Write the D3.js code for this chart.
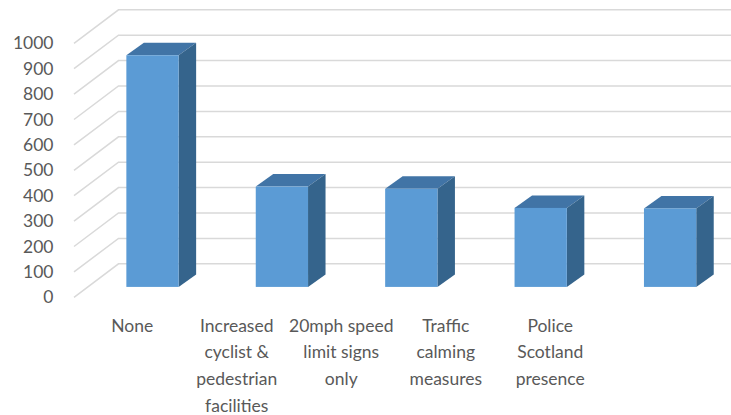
<!DOCTYPE html>
<html>
<head>
<meta charset="utf-8">
<script src="https://cdn.jsdelivr.net/npm/d3@7"></script>
<style>
  html, body { margin: 0; padding: 0; background: #ffffff; }
  svg { display: block; }
  text { font-family: Lato, "Open Sans", sans-serif; fill: #595959; }
</style>
</head>
<body>
<svg id="chart" width="731" height="415"></svg>
<script>
// Survey responses per measure
const categories = [
  "None",
  "Increased\ncyclist &\npedestrian\nfacilities",
  "20mph speed\nlimit signs\nonly",
  "Traffic\ncalming\nmeasures",
  "Police\nScotland\npresence"
];
const values = [912, 395, 386, 311, 309];
const yTicks = [0, 100, 200, 300, 400, 500, 600, 700, 800, 900, 1000];

const W = 731, H = 415;
const svg = d3.select("#chart");

// 3D box geometry: front-left floor corner and depth vector of the walls
const ox = 74, oy = 297.3;
const depth = { x: 44.5, y: -33.5 };
const wallRight = 760;

// value -> height in pixels
const y = d3.scaleLinear().domain([0, 1000]).range([0, 254]);

// bar placement along the floor
const x = d3.scaleBand()
  .domain(d3.range(categories.length))
  .range([0, 647])
  .paddingInner(0.596)
  .paddingOuter(0.298);

// category label positions along the front edge
const xLabel = d3.scaleBand()
  .domain(d3.range(categories.length))
  .range([80, 602.5]);

const grid = svg.append("g")
  .attr("fill", "none")
  .attr("stroke", "#d9d9d9")
  .attr("stroke-width", 1.5);

// side wall diagonals and back wall gridlines
grid.selectAll("path.grid")
  .data(yTicks)
  .join("path")
  .attr("class", "grid")
  .attr("d", v => {
    const fy = oy - y(v);
    return `M${ox},${fy} L${ox + depth.x},${fy + depth.y} L${wallRight},${fy + depth.y}`;
  });

// y axis tick labels
svg.append("g")
  .attr("text-anchor", "end")
  .style("font-size", "17.5px")
  .selectAll("text")
  .data(yTicks)
  .join("text")
  .attr("x", 53.5)
  .attr("y", v => oy - y(v) + 6)
  .text(v => v);

// bars: front face at a fraction of the box depth
const barFront = 0.31;
const bx0 = ox + depth.x * barFront;
const by0 = oy + depth.y * barFront;
const bd = { x: 17.5, y: -12.5 };
const bw = x.bandwidth();

const bars = svg.append("g")
  .selectAll("g")
  .data(values)
  .join("g");

// top face
bars.append("path")
  .attr("fill", "#4174a6")
  .attr("d", (v, i) => {
    const x0 = bx0 + x(i), yt = by0 - y(v);
    return `M${x0},${yt} L${x0 + bd.x},${yt + bd.y} L${x0 + bw + bd.x},${yt + bd.y} L${x0 + bw},${yt} Z`;
  });

// side face
bars.append("path")
  .attr("fill", "#35648c")
  .attr("d", (v, i) => {
    const x1 = bx0 + x(i) + bw, yt = by0 - y(v);
    return `M${x1},${yt} L${x1 + bd.x},${yt + bd.y} L${x1 + bd.x},${by0 + bd.y} L${x1},${by0} Z`;
  });

// front face
bars.append("rect")
  .attr("fill", "#5b9bd5")
  .attr("x", (v, i) => bx0 + x(i))
  .attr("y", v => by0 - y(v))
  .attr("width", bw)
  .attr("height", v => y(v));

// category labels
const labels = svg.append("g")
  .attr("text-anchor", "middle")
  .style("font-size", "17.5px")
  .selectAll("text")
  .data(categories)
  .join("text")
  .attr("x", (c, i) => xLabel(i) + xLabel.bandwidth() / 2)
  .attr("y", 331.5);

labels.selectAll("tspan")
  .data(c => c.split("\n"))
  .join("tspan")
  .attr("x", function () { return this.parentNode.getAttribute("x"); })
  .attr("dy", (d, j) => j === 0 ? 0 : 26.7)
  .text(d => d);
</script>
</body>
</html>
